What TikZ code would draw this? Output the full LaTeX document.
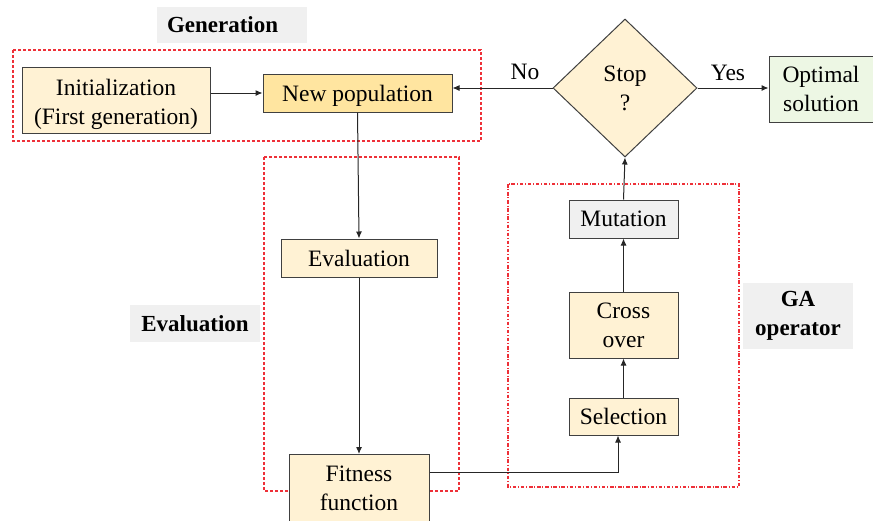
\documentclass[tikz,border=0pt]{standalone}
\usepackage{fontspec}
\setmainfont{Liberation Serif}
\usetikzlibrary{arrows.meta,shapes.geometric}
\definecolor{cream}{HTML}{FFF2D4}
\definecolor{gold}{HTML}{FFE5A0}
\definecolor{lgreen}{HTML}{EDF7E4}
\definecolor{lgray}{HTML}{F0F0F0}
\definecolor{dred}{HTML}{EE3038}
% centred block of lines, drawn lower while keeping its nominal extent
\newcommand\droptext[2]{\raisebox{-#1}[\height][\depth]{\begin{tabular}{@{}c@{}}#2\end{tabular}}}
\tikzset{
  stepbox/.style={draw=black!75, line width=1pt, fill=cream, inner sep=0pt,
    font=\fontsize{23.5}{29}\selectfont, align=center},
  grouplabel/.style={fill=lgray, inner sep=0pt, align=center,
    font=\fontsize{23}{29}\selectfont\bfseries},
  groupframe/.style={draw=dred, line width=1.05pt, dash pattern=on 3.2pt off 1.8pt},
  flow/.style={draw=black!85, line width=1pt, -{Latex[length=7pt,width=6pt]}},
  yesno/.style={font=\fontsize{23.5}{28}\selectfont}
}
\begin{document}
\begin{tikzpicture}[x=1pt,y=-1pt]
\useasboundingbox (0,0) rectangle (873,520);

% group frames
\draw[groupframe] (13,50) rectangle (481,141);
\draw[groupframe] (264,157) rectangle (459,491);
\draw[draw=dred, line width=1.05pt, dash pattern=on 3.5pt off 1.8pt on 1pt off 1.8pt]
  (508,184) rectangle (739,487);

% group labels
\node[grouplabel, text width=130pt, align=left, inner xsep=10pt, minimum height=36pt] (lgen) at (232,25) {Generation};
\node[grouplabel, minimum width=130pt, minimum height=37pt] (leval) at (195,323.5) {Evaluation};
\node[grouplabel, minimum width=110pt, minimum height=66pt] (lga) at (798,316) {GA\\operator};

% process steps
\node[stepbox, minimum width=188pt, minimum height=66pt] (init) at (116,100) {\droptext{4pt}{Initialization\\(First generation)}};
\node[stepbox, fill=gold, minimum width=189pt, minimum height=38pt] (newpop) at (357.5,93) {\droptext{3pt}{New population}};
\node[stepbox, minimum width=156pt, minimum height=38pt] (eval) at (359,258) {Evaluation};
\node[stepbox, minimum width=140pt, minimum height=68pt, anchor=north] (fit) at (359,454) {Fitness\\function};
\node[stepbox, minimum width=109pt, minimum height=37pt] (sel) at (623.5,416.5) {Selection};
\node[stepbox, minimum width=109pt, minimum height=66pt] (cross) at (623.5,325) {Cross\\over};
\node[stepbox, fill=lgray, minimum width=109pt, minimum height=38pt] (mut) at (623.5,219) {Mutation};
\node[diamond, draw=black!75, line width=1pt, fill=cream, inner sep=0pt,
  minimum width=144pt, minimum height=138pt, align=center,
  font=\fontsize{23.5}{29}\selectfont] (stop) at (625,88) {Stop\\?};
\node[stepbox, fill=lgreen, minimum width=104pt, minimum height=66pt] (opt) at (821,89) {Optimal\\solution};

% connectors
\draw[flow] (init.east |- 0,93) -- (newpop.west);
\draw[flow] (newpop.south) -- (eval.north);
\draw[flow] (eval.south) -- (fit.north);
\coordinate (turn) at (618,472);
\draw[flow] (fit.east |- turn) -- (turn) -- (turn |- sel.south);
\draw[flow] (sel.north) -- (cross.south);
\draw[flow] (cross.north) -- (mut.south);
\draw[flow] (mut.north) -- (stop.south);
\draw[flow] (stop.west) -- (newpop.east |- stop.west);
\draw[flow] (stop.east) -- (opt.west |- stop.east);

% decision labels
\node[yesno] (no) at (525,72) {No};
\node[yesno] (yes) at (728,73) {Yes};
\end{tikzpicture}
\end{document}
